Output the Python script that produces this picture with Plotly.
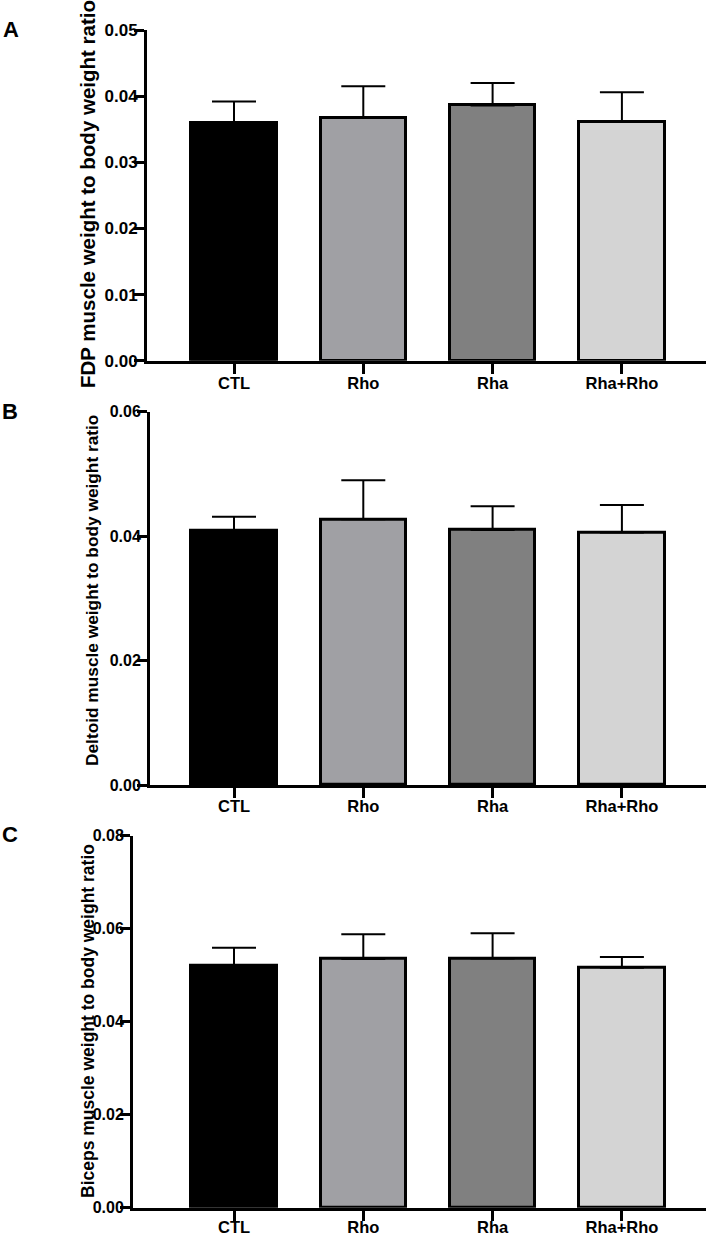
import plotly.graph_objects as go

W, H = 709, 1234

categories = ["CTL", "Rho", "Rha", "Rha+Rho"]
bar_colors = ["#000000", "#a0a0a4", "#808080", "#d4d4d4"]

fdp_mean = [0.0359, 0.0367, 0.0386, 0.0361]
fdp_upper = [0.0392, 0.0415, 0.0420, 0.0406]

deltoid_mean = [0.0408, 0.0427, 0.0410, 0.0406]
deltoid_upper = [0.0431, 0.0490, 0.0448, 0.0450]

biceps_mean = [0.0520, 0.0535, 0.0536, 0.0516]
biceps_upper = [0.0559, 0.0588, 0.0590, 0.0539]

titles = ["FDP muscle weight to body weight ratio",
          "Deltoid muscle weight to body weight ratio",
          "Biceps muscle weight to body weight ratio"]
panel_letters = ["A", "B", "C"]
y_max = [0.05, 0.06, 0.08]
y_dtick = [0.01, 0.02, 0.02]

FONT = "Liberation Sans, Arial, sans-serif"

# layout in pixels
panels = [
    dict(x0=147, x1=706, ytop=30, ybot=360.7, tickfs=17, titlefs=20.5,
         tx=87, ty=194, lx=11, ly=29, xso=-5),
    dict(x0=150, x1=706, ytop=411.7, ybot=785, tickfs=16, titlefs=17.3,
         tx=92, ty=591, lx=10, ly=411, xso=-6),
    dict(x0=133, x1=706, ytop=835.7, ybot=1207.7, tickfs=16, titlefs=17.5,
         tx=88, ty=1021, lx=10, ly=834, xso=-8),
]
center0 = 234.0
spacing = 129.3

fig = go.Figure()
means = [fdp_mean, deltoid_mean, biceps_mean]
uppers = [fdp_upper, deltoid_upper, biceps_upper]

annotations = []
for i, p in enumerate(panels):
    n = "" if i == 0 else str(i + 1)
    err = [u - m for u, m in zip(uppers[i], means[i])]
    fig.add_trace(go.Bar(
        x=categories, y=means[i], width=0.66,
        marker=dict(color=bar_colors, line=dict(color="black", width=3)),
        error_y=dict(type="data", symmetric=False, array=err,
                     arrayminus=[0] * len(err), color="black",
                     thickness=2, width=22),
        xaxis="x" + n, yaxis="y" + n, showlegend=False,
    ))
    xr = [(p["x0"] - center0) / spacing, (p["x1"] - center0) / spacing]
    fig.update_layout(**{
        "xaxis" + n: dict(
            domain=[p["x0"] / W, p["x1"] / W], range=xr,
            anchor="y" + n, showline=True, linecolor="black", linewidth=3,
            ticks="outside", ticklen=10, tickwidth=3, tickcolor="black",
            ticklabelstandoff=p["xso"],
            tickfont=dict(family=FONT, size=16.5, color="black", weight="bold"),
            showgrid=False, zeroline=False, fixedrange=True, automargin=False,
        ),
        "yaxis" + n: dict(
            domain=[1 - p["ybot"] / H, 1 - p["ytop"] / H],
            range=[0, y_max[i]], anchor="x" + n,
            dtick=y_dtick[i], tick0=0, tickformat=".2f",
            showline=True, linecolor="black", linewidth=3,
            ticks="outside", ticklen=10, tickwidth=3, tickcolor="black",
            ticklabelstandoff=-7,
            tickfont=dict(family=FONT, size=p["tickfs"], color="black",
                          weight="bold"),
            showgrid=False, zeroline=False, fixedrange=True, automargin=False,
        ),
    })
    annotations.append(dict(
        text=titles[i], textangle=-90, xref="paper", yref="paper",
        x=p["tx"] / W, y=1 - p["ty"] / H, xanchor="center", yanchor="middle",
        showarrow=False,
        font=dict(family=FONT, size=p["titlefs"], color="black", weight="bold"),
    ))
    annotations.append(dict(
        text=panel_letters[i], xref="paper", yref="paper",
        x=p["lx"] / W, y=1 - p["ly"] / H, xanchor="center", yanchor="middle",
        showarrow=False,
        font=dict(family=FONT, size=22, color="black", weight="bold"),
    ))

fig.update_layout(
    template="none",
    width=W, height=H, margin=dict(l=0, r=0, t=0, b=0, pad=0),
    paper_bgcolor="white", plot_bgcolor="white",
    annotations=annotations, bargap=0,
)

fig.write_html(
    "out.html",
    config={"displayModeBar": False},
    post_script="document.body.style.margin='0';document.body.style.overflow='hidden';",
)
